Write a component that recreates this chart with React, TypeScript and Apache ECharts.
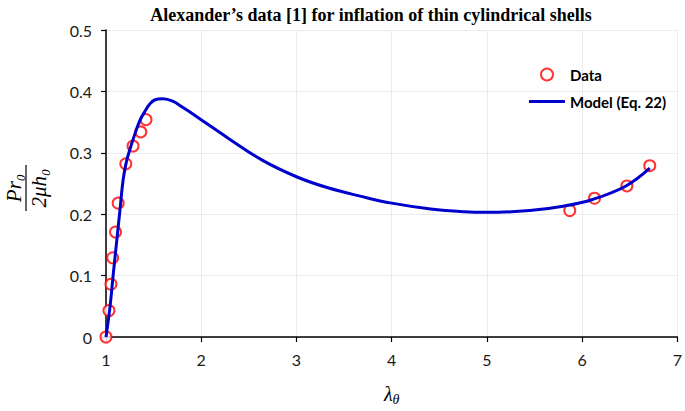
import React, { useEffect, useRef } from "react";
import * as echarts from "echarts";

const dataX = [1.0, 1.031, 1.052, 1.07, 1.1, 1.128, 1.208, 1.284, 1.365, 1.42, 5.87, 6.13, 6.47, 6.71];
const dataY = [0.0, 0.043, 0.086, 0.129, 0.171, 0.218, 0.282, 0.311, 0.334, 0.354, 0.206, 0.226, 0.246, 0.279];

const modelX = [1.0, 1.042, 1.076, 1.111, 1.146, 1.18, 1.215, 1.25, 1.302, 1.354, 1.406, 1.458, 1.51, 1.597, 1.7, 1.805, 1.98, 2.29, 2.64, 3.0, 3.33, 3.68, 4.0, 4.41, 4.76, 5.0, 5.45, 5.8, 6.11, 6.46, 6.71];
const modelY = [0.0, 0.049, 0.102, 0.154, 0.206, 0.256, 0.286, 0.305, 0.33, 0.352, 0.367, 0.379, 0.386, 0.388, 0.384, 0.374, 0.356, 0.323, 0.288, 0.261, 0.243, 0.229, 0.218, 0.2085, 0.204, 0.203, 0.206, 0.213, 0.224, 0.246, 0.275];

const xTicks = { min: 1, max: 7, interval: 1 };
const yTicks = { min: 0, max: 0.5, interval: 0.1 };

const titleText = "Alexander\u2019s data [1] for inflation of thin cylindrical shells";
const seriesNames = ["Data", "Model (Eq. 22)"];

export default function App() {
  const ref = useRef<HTMLDivElement>(null);
  useEffect(() => {
    if (!ref.current) return;
    const chart = echarts.init(ref.current, undefined, { renderer: "svg" });
    const labelFont = { fontFamily: "Lato, 'Open Sans', sans-serif", fontSize: 16, color: "#1a1a1a" };
    chart.setOption({
      animation: false,
      backgroundColor: "#ffffff",
      title: {
        text: titleText,
        left: 366,
        top: 1,
        textAlign: "center",
        textStyle: { fontFamily: "'Liberation Serif', serif", fontWeight: "bold", fontSize: 18, color: "#000" },
      },
      legend: {
        orient: "vertical",
        left: 524,
        top: 62,
        itemWidth: 36,
        itemHeight: 12,
        itemGap: 12,
        textStyle: { fontFamily: "Lato, 'Open Sans', sans-serif", fontWeight: "bold", fontSize: 15, color: "#000" },
        data: [
          { name: seriesNames[0] },
          { name: seriesNames[1], icon: "path://M0,0 L36,0 L36,3 L0,3 Z" },
        ],
      },
      grid: { left: 106, right: 3, top: 30, bottom: 63, containLabel: false },
      xAxis: {
        type: "value",
        min: xTicks.min,
        max: xTicks.max,
        interval: xTicks.interval,
        name: "{a|\u03bb}{b|\u03b8}",
        nameLocation: "middle",
        nameGap: 45,
        nameTextStyle: {
          rich: {
            a: { fontFamily: "'Liberation Serif', serif", fontStyle: "italic", fontSize: 20, color: "#000" },
            b: { fontFamily: "'Liberation Serif', serif", fontStyle: "italic", fontSize: 14, color: "#000", padding: [10, 0, 0, 0] },
          },
        },
        axisLine: { show: true, lineStyle: { color: "#000", width: 1.5 } },
        axisTick: { show: true, length: 5, lineStyle: { color: "#000", width: 1.2 } },
        axisLabel: { ...labelFont, margin: 14 },
        splitLine: { show: true, lineStyle: { color: "#ebebeb", width: 1 } },
      },
      yAxis: {
        type: "value",
        min: yTicks.min,
        max: yTicks.max,
        interval: yTicks.interval,
        axisLine: { show: true, lineStyle: { color: "#000", width: 1.5 } },
        axisTick: { show: true, length: 5, lineStyle: { color: "#000", width: 1.2 } },
        axisLabel: { ...labelFont, margin: 14 },
        splitLine: { show: true, lineStyle: { color: "#ebebeb", width: 1 } },
      },
      graphic: [
        {
          type: "group",
          x: 26,
          y: 188,
          rotation: Math.PI / 2,
          children: [
            {
              type: "text",
              style: {
                text: "Pr\u2080",
                x: 0,
                y: -2,
                align: "center",
                verticalAlign: "bottom",
                fontFamily: "'Liberation Serif', serif",
                fontStyle: "italic",
                fontSize: 21,
                fill: "#000",
              },
            },
            {
              type: "line",
              shape: { x1: -23, y1: 0, x2: 23, y2: 0 },
              style: { stroke: "#000", lineWidth: 1.2 },
            },
            {
              type: "text",
              style: {
                text: "2\u03bch\u2080",
                x: 0,
                y: 2,
                align: "center",
                verticalAlign: "top",
                fontFamily: "'Liberation Serif', serif",
                fontStyle: "italic",
                fontSize: 21,
                fill: "#000",
              },
            },
          ],
        },
      ],
      series: [
        {
          name: seriesNames[0],
          type: "scatter",
          symbol: "emptyCircle",
          symbolSize: 11,
          itemStyle: { color: "#ff0000", borderColor: "#ff0000", borderWidth: 1.5 },
          data: dataX.map((x, i) => [x, dataY[i]]),
          z: 2,
        },
        {
          name: seriesNames[1],
          type: "line",
          smooth: 0.4,
          symbol: "none",
          lineStyle: { color: "#0000cc", width: 3 },
          itemStyle: { color: "#0000cc" },
          data: modelX.map((x, i) => [x, modelY[i]]),
          z: 3,
        },
      ],
    });
    return () => chart.dispose();
  }, []);
  return <div ref={ref} style={{ width: 685, height: 411, position: "absolute", left: 0, top: 0 }} />;
}
